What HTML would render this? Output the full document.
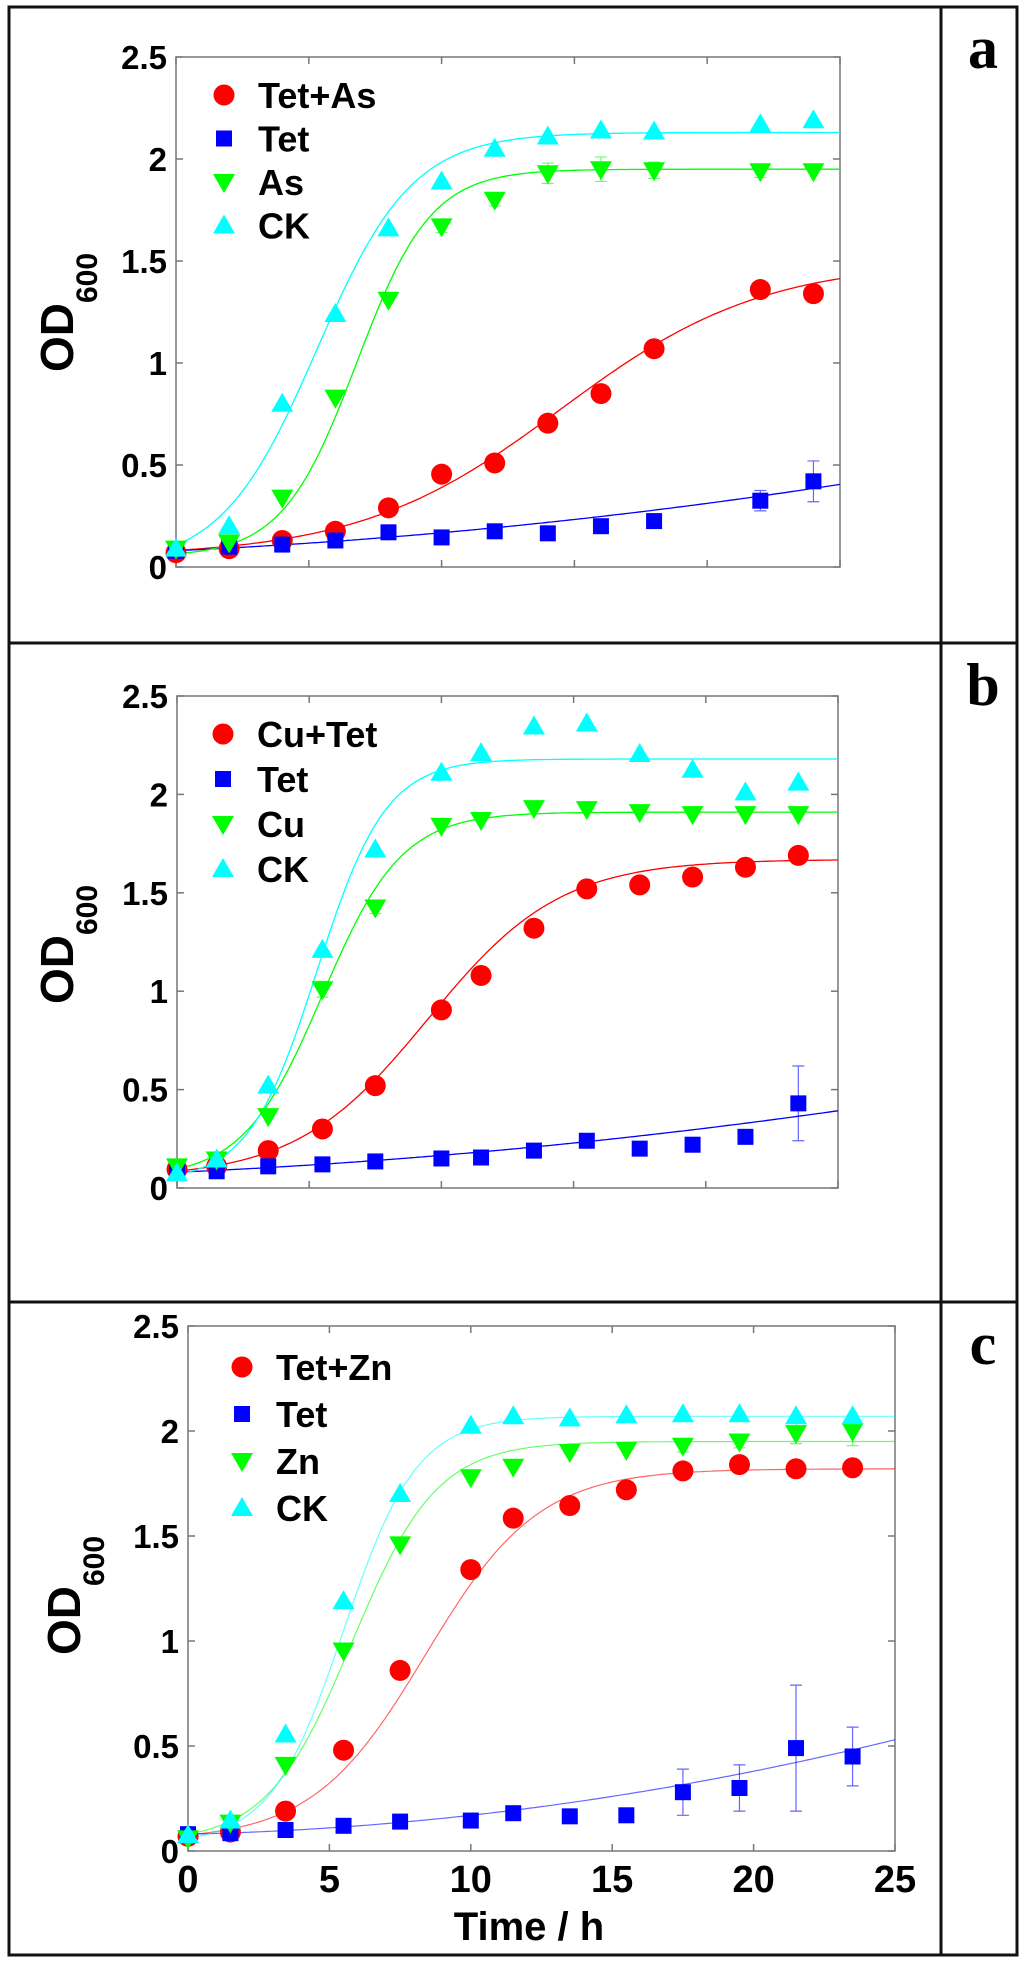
<!DOCTYPE html>
<html><head><meta charset="utf-8"><title>OD600 growth curves</title>
<style>html,body{margin:0;padding:0;background:#fff}svg{display:block}
text{font-family:"Liberation Sans",Arial,sans-serif;font-weight:bold}</style></head>
<body>
<svg id="fig" width="1024" height="1962" viewBox="0 0 1024 1962" xmlns="http://www.w3.org/2000/svg">
<g fill="none" stroke="#111" stroke-width="3">
<rect x="9" y="7" width="1008" height="1948"/>
<line x1="9" y1="643" x2="1017" y2="643"/>
<line x1="9" y1="1302" x2="1017" y2="1302"/>
<line x1="941" y1="7" x2="941" y2="1955"/>
</g>
<text x="983" y="68" text-anchor="middle" font-size="60" style="font-family:'Liberation Serif',serif">a</text>
<text x="983" y="705" text-anchor="middle" font-size="60" style="font-family:'Liberation Serif',serif">b</text>
<text x="983" y="1364" text-anchor="middle" font-size="60" style="font-family:'Liberation Serif',serif">c</text>
<text x="529" y="1940" text-anchor="middle" font-size="40">Time / h</text>
</svg>
<script>
const yTicks=[0,0.5,1,1.5,2,2.5];
const yTickLabels=["0","0.5","1","1.5","2","2.5"];
const xTicks=[0,5,10,15,20,25];
const xTickLabels=["0","5","10","15","20","25"];
const seriesColors=["#ff0000","#0000ff","#00ff00","#00ffff"];
const seriesShapes=["circle","square","down","up"];
// panel a
const timesA=[0,2,4,6,8,10,12,14,16,18,22,24];
const aLabels=["Tet+As","Tet","As","CK"];
const aRed=[0.07,0.09,0.13,0.175,0.29,0.455,0.51,0.705,0.85,1.07,1.36,1.34];
const aBlue=[0.08,0.10,0.11,0.13,0.17,0.145,0.175,0.165,0.20,0.225,0.325,0.42];
const aGreen=[0.09,0.12,0.34,0.83,1.31,1.67,1.80,1.93,1.95,1.945,1.94,1.94];
const aCyan=[0.09,0.20,0.80,1.24,1.66,1.89,2.05,2.11,2.14,2.135,2.17,2.19];
const aBlueErr=[0,0,0,0,0,0,0.02,0,0,0,0.05,0.1];
const aGreenErr=[0,0,0,0,0,0.03,0.03,0.05,0.06,0.04,0.03,0];
// panel b
const timesB=[0,1.5,3.45,5.5,7.5,10,11.5,13.5,15.5,17.5,19.5,21.5,23.5];
const bLabels=["Cu+Tet","Tet","Cu","CK"];
const bRed=[0.095,0.11,0.19,0.30,0.52,0.905,1.08,1.32,1.52,1.54,1.58,1.63,1.69];
const bBlue=[0.08,0.085,0.11,0.12,0.135,0.15,0.155,0.19,0.24,0.20,0.22,0.26,0.43];
const bGreen=[0.11,0.145,0.365,1.01,1.425,1.84,1.87,1.93,1.925,1.91,1.90,1.90,1.90];
const bCyan=[0.075,0.145,0.52,1.21,1.72,2.11,2.21,2.345,2.36,2.205,2.125,2.01,2.06];
const bBlueErr=[0,0,0,0,0,0,0,0,0,0,0,0.03,0.19];
const bGreenErr=[0,0,0,0.04,0.03,0,0,0,0,0,0,0,0];
// panel c
const timesC=[0,1.5,3.45,5.5,7.5,10,11.5,13.5,15.5,17.5,19.5,21.5,23.5];
const cLabels=["Tet+Zn","Tet","Zn","CK"];
const cRed=[0.07,0.09,0.19,0.48,0.86,1.34,1.585,1.645,1.72,1.81,1.84,1.82,1.825];
const cBlue=[0.08,0.085,0.10,0.12,0.14,0.145,0.18,0.165,0.17,0.28,0.30,0.49,0.45];
const cGreen=[0.06,0.135,0.41,0.955,1.46,1.78,1.83,1.90,1.91,1.93,1.95,1.99,2.0];
const cCyan=[0.075,0.145,0.555,1.19,1.70,2.025,2.07,2.06,2.075,2.08,2.08,2.07,2.07];
const cBlueErr=[0,0,0,0,0,0,0,0,0,0.11,0.11,0.30,0.14];
const cGreenErr=[0,0,0,0,0,0,0,0,0,0.03,0.03,0.05,0.07];
// fitted model parameters [A,K,t0,w] logistic; blue uses quadratic [c0,c1,c2]
const aFits=[[0.05,1.5,14.5,3.8],[0.08,0.006,0.00028],[0.05,1.95,6.8,1.4],[0,2.13,5.3,1.8]];
const bFits=[[0.05,1.67,9.5,2.5],[0.08,0.006,0.00026],[0.05,1.91,5.5,1.5],[0.03,2.18,5.3,1.3]];
const cFits=[[0.05,1.82,8.4,2.0],[0.08,0.003,0.0006],[0.04,1.95,5.8,1.5],[0.03,2.07,5.5,1.3]];

const NS="http://www.w3.org/2000/svg";
const svg=document.getElementById('fig');
function mk(tag,attrs,parent){const e=document.createElementNS(NS,tag);for(const k in attrs)e.setAttribute(k,attrs[k]);(parent||svg).appendChild(e);return e;}
function model(p,t){if(p.length===3)return p[0]+p[1]*t+p[2]*t*t;return p[0]+(p[1]-p[0])/(1+Math.exp(-(t-p[2])/p[3]));}

function panel(cfg){
  const L=cfg.L,R=cfg.R,T=cfg.T,B=cfg.B;
  const xs=t=>L+(t/25)*(R-L);
  const ys=v=>B-(v/2.5)*(B-T);
  const g=mk('g',{});
  
  
  const fr=mk('rect',{x:L,y:T,width:R-L,height:B-T,fill:'none',stroke:'#777','stroke-width':1.5},g);
  
  
  yTicks.forEach((v,i)=>{
    const y=ys(v);
    const t1=mk('line',{x1:L,y1:y,x2:L+7,y2:y,stroke:'#777','stroke-width':1.5},g);
    
    
    const t2=mk('line',{x1:R-7,y1:y,x2:R,y2:y,stroke:'#777','stroke-width':1.5},g);
    
    
    const lb=mk('text',{x:L-9,y:y+12,'text-anchor':'end','font-size':cfg.fs},g);
    lb.textContent=yTickLabels[i];
    
    
  });
  xTicks.forEach((t,i)=>{
    const x=xs(t);
    const a=mk('line',{x1:x,y1:B,x2:x,y2:B-7,stroke:'#777','stroke-width':1.5},g);
    
    
    const b=mk('line',{x1:x,y1:T,x2:x,y2:T+7,stroke:'#777','stroke-width':1.5},g);
    
    
    if(cfg.xlabels){
      const lb=mk('text',{x:x,y:B+41,'text-anchor':'middle','font-size':38},g);
      lb.textContent=xTickLabels[i];
      
      
    }
  });
  // y title
  const yt=mk('text',{transform:`translate(${cfg.odx},${cfg.ody}) rotate(-90)`,'font-size':46},g);
  
  
  yt.appendChild(document.createTextNode('OD'));
  const sub=mk('tspan',{'font-size':30,dy:24},yt);sub.textContent='600';
  // curves
  cfg.fits.forEach((p,si)=>{
    let d='';
    for(let k=0;k<=200;k++){const t=25*k/200;const v=model(p,t);d+=(k?'L':'M')+xs(t).toFixed(1)+','+ys(v).toFixed(1);}
    const c=mk('path',{d:d,fill:'none',stroke:seriesColors[si],'stroke-width':cfg.lw,opacity:cfg.op},g);
    
    
  });
  // points
  cfg.series.forEach((vals,si)=>{
    const err=cfg.errs[si];
    vals.forEach((v,j)=>{
      const x=xs(cfg.times[j]),y=ys(v);
      if(err&&err[j]>0){
        const eb=mk('path',{d:`M${x},${ys(v-err[j])}L${x},${ys(v+err[j])}M${x-6},${ys(v-err[j])}L${x+6},${ys(v-err[j])}M${x-6},${ys(v+err[j])}L${x+6},${ys(v+err[j])}`,stroke:seriesColors[si],'stroke-width':1.2,fill:'none',opacity:0.6},g);
        
        
      }
      const m=marker(g,seriesShapes[si],x,y,seriesColors[si]);
      
      
    });
  });
  // legend
  cfg.labels.forEach((lab,si)=>{
    const y=cfg.legY+si*cfg.legDy;
    const m=marker(g,seriesShapes[si],cfg.legX,y,seriesColors[si]);
    
    
    const t=mk('text',{x:cfg.legX+34,y:y+13,'font-size':36},g);
    t.textContent=lab;
    
    
  });
}
function marker(g,shape,x,y,col){
  if(shape==='circle')return mk('circle',{cx:x,cy:y,r:10.5,fill:col},g);
  if(shape==='square')return mk('rect',{x:x-8,y:y-8,width:16,height:16,fill:col},g);
  if(shape==='down')return mk('polygon',{points:`${x-11},${y-8} ${x+11},${y-8} ${x},${y+11}`,fill:col},g);
  return mk('polygon',{points:`${x-11},${y+8} ${x+11},${y+8} ${x},${y-11}`,fill:col},g);
}
panel({name:'panel-a',L:176,R:840,T:57,B:567,fs:33,xlabels:false,odx:73,ody:372,
  times:timesA,labels:aLabels,series:[aRed,aBlue,aGreen,aCyan],errs:[null,aBlueErr,aGreenErr,null],fits:aFits,lw:1.3,op:1,legX:224,legY:95,legDy:43.5});
panel({name:'panel-b',L:177,R:838,T:696,B:1188,fs:33,xlabels:false,odx:73,ody:1004,
  times:timesB,labels:bLabels,series:[bRed,bBlue,bGreen,bCyan],errs:[null,bBlueErr,bGreenErr,null],fits:bFits,lw:1.3,op:1,legX:223,legY:734,legDy:45});
panel({name:'panel-c',L:188,R:895,T:1326,B:1851,fs:33,xlabels:true,odx:80,ody:1655,
  times:timesC,labels:cLabels,series:[cRed,cBlue,cGreen,cCyan],errs:[null,cBlueErr,cGreenErr,null],fits:cFits,lw:1.2,op:0.6,legX:242,legY:1367,legDy:47});
</script>
</body></html>
